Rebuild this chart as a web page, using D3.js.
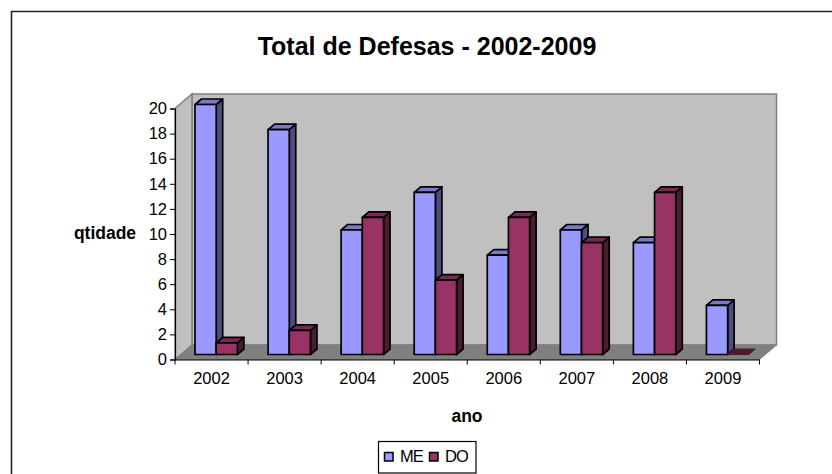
<!DOCTYPE html>
<html>
<head>
<meta charset="utf-8">
<script src="https://cdn.jsdelivr.net/npm/d3@7"></script>
<style>
  html, body { margin: 0; padding: 0; background: #fff; }
  svg { display: block; }
  text { font-family: "Liberation Sans", Arial, sans-serif; fill: #000; }
</style>
</head>
<body>
<svg id="chart" width="832" height="474"></svg>
<script>
const years = ["2002", "2003", "2004", "2005", "2006", "2007", "2008", "2009"]
const me = [20, 18, 10, 13, 8, 10, 9, 4]
const doutorado = [1, 2, 11, 6, 11, 9, 13, 0]
const yTicks = [0, 2, 4, 6, 8, 10, 12, 14, 16, 18, 20]

const colors = {
  me: { front: "#9999ff", top: "#7a7acc", side: "#4d4d80" },
  do: { front: "#993366", top: "#7a2952", side: "#4d1a33" }
}

const svg = d3.select("#chart")

// frame, only top and left are drawn in the picture
svg.append("path").attr("d", "M11.5 474V11.5H832").attr("fill", "none").attr("stroke", "#222").attr("stroke-width", 1.6)

let x = d3.scaleBand().domain(years).range([175, 759.5])
let y = d3.scaleLinear().domain([0, 20]).range([359.5, 108.5])

// 3d offsets of the box and of each bar
const wall = { dx: 17, dy: 14.5 }
const bar = { dx: 6.5, dy: 5.5, inX: 20, topY: 4, baseY: 5, w: 21.2 }

const x0 = x.range()[0], x1 = x.range()[1]
const y0 = y(0), yTop = y(20)

const poly = pts => "M" + pts.map(p => p.join(" ")).join("L") + "Z"

// walls and floor
svg.append("path")
  .attr("d", poly([[x0 + wall.dx, yTop - wall.dy], [x1 + wall.dx, yTop - wall.dy], [x1 + wall.dx, y0 - wall.dy], [x0 + wall.dx, y0 - wall.dy]]))
  .attr("fill", "#c0c0c0").attr("stroke", "#808080").attr("stroke-width", 1.5)
svg.append("path")
  .attr("d", poly([[x0, yTop], [x0 + wall.dx, yTop - wall.dy], [x0 + wall.dx, y0 - wall.dy], [x0, y0]]))
  .attr("fill", "#c0c0c0").attr("stroke", "#808080").attr("stroke-width", 1.5)
svg.append("path")
  .attr("d", poly([[x0, y0], [x0 + wall.dx, y0 - wall.dy], [x1 + wall.dx, y0 - wall.dy], [x1, y0]]))
  .attr("fill", "#808080").attr("stroke", "#808080").attr("stroke-width", 1)

function drawBar(g, left, value, c) {
  const right = left + bar.w
  const base = y(0) - bar.baseY
  const top = value > 0 ? y(value) - bar.topY : base
  if (value > 0) {
    g.append("path").attr("d", poly([[right, top], [right + bar.dx, top - bar.dy], [right + bar.dx, base - bar.dy], [right, base]])).attr("fill", c.side)
    g.append("path").attr("d", poly([[left, top], [left + bar.dx, top - bar.dy], [right + bar.dx, top - bar.dy], [right, top]])).attr("fill", c.top)
    g.append("rect").attr("x", left).attr("y", top).attr("width", bar.w).attr("height", base - top).attr("fill", c.front)
  } else {
    // empty bar only leaves its lid on the floor
    g.append("path").attr("d", poly([[left, top], [left + bar.dx, top - bar.dy], [right + bar.dx, top - bar.dy], [right, top]]))
      .attr("fill", c.side).attr("stroke", c.side).attr("stroke-width", 1)
  }
}

const barsG = svg.append("g").attr("stroke", "#000").attr("stroke-width", 1.7).attr("stroke-linejoin", "round")
years.forEach((yr, i) => {
  const g = barsG.append("g")
  drawBar(g, x(yr) + bar.inX, me[i], colors.me)
  drawBar(g, x(yr) + bar.inX + bar.w, doutorado[i], colors.do)
})

// axes
const yAxis = d3.axisLeft(y).tickValues(yTicks).tickSize(5).tickPadding(3)
const gy = svg.append("g").attr("transform", `translate(${x0},0)`).call(yAxis)
const xAxis = d3.axisBottom(x).tickSize(0).tickPadding(13)
const gx = svg.append("g").attr("transform", `translate(0,${y0})`).call(xAxis)

// category borders get the ticks, the labels stay centred
gx.selectAll(".sep").data(d3.range(years.length + 1)).enter().append("line")
  .attr("x1", i => x0 + i * x.step()).attr("x2", i => x0 + i * x.step())
  .attr("y1", 0).attr("y2", 5).attr("stroke", "#000")

svg.selectAll(".domain").attr("stroke", "#000").attr("stroke-width", 1.2)
svg.selectAll(".tick line").attr("stroke", "#000")
gy.selectAll("text").attr("font-size", 16.5)
gx.selectAll("text").attr("font-size", 16.5)

// titles
svg.append("text").attr("x", 427).attr("y", 55).attr("text-anchor", "middle")
  .attr("font-size", 25).attr("font-weight", "bold").text("Total de Defesas - 2002-2009")
svg.append("text").attr("x", 105).attr("y", 239).attr("text-anchor", "middle")
  .attr("font-size", 17.5).attr("font-weight", "bold").text("qtidade")
svg.append("text").attr("x", 467).attr("y", 422).attr("text-anchor", "middle")
  .attr("font-size", 17.5).attr("font-weight", "bold").text("ano")

// legend
const legend = svg.append("g").attr("transform", "translate(378,441)")
legend.append("rect").attr("x", 0.5).attr("y", 0.5).attr("width", 97.5).attr("height", 31.5)
  .attr("fill", "#fff").attr("stroke", "#000").attr("stroke-width", 1.2)
const legendItems = [["ME", colors.me.front, 6.5, 22], ["DO", colors.do.front, 51.5, 67]]
legend.selectAll("rect.key").data(legendItems).enter().append("rect").attr("class", "key")
  .attr("x", d => d[2]).attr("y", 11.5).attr("width", 8.5).attr("height", 8.5)
  .attr("fill", d => d[1]).attr("stroke", "#000").attr("stroke-width", 1.5)
legend.selectAll("text").data(legendItems).enter().append("text")
  .attr("x", d => d[3]).attr("y", 21).attr("font-size", 16.5).attr("letter-spacing", -1)
  .text(d => d[0])
</script>
</body>
</html>
